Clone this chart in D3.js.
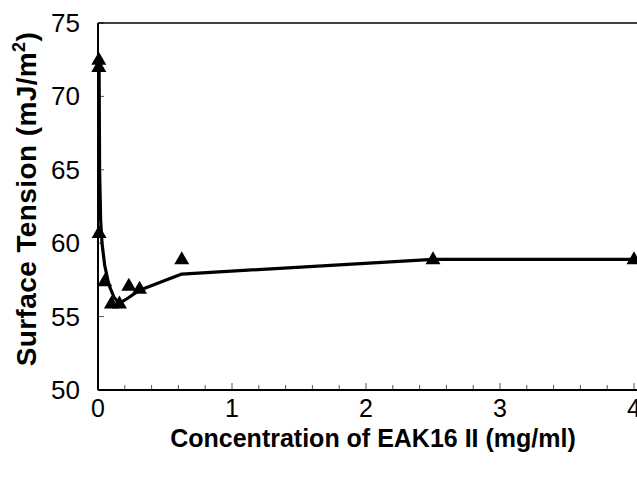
<!DOCTYPE html>
<html>
<head>
<meta charset="utf-8">
<script src="https://cdn.jsdelivr.net/npm/d3@7"></script>
<style>
  body { margin: 0; background: #fff; }
  text { font-family: Arial, "Liberation Sans", sans-serif; }
</style>
</head>
<body>
<svg width="637" height="478"></svg>
<script>
// measured points
var conc = [0.006, 0.006, 0.008, 0.05, 0.1, 0.16, 0.23, 0.31, 0.625, 2.5, 4];
var tension = [72.5, 72.0, 60.7, 57.4, 55.9, 55.9, 57.1, 56.9, 58.9, 58.9, 58.9];

// fitted curve
var fitConc = [0.008, 0.012, 0.02, 0.03, 0.05, 0.08, 0.12, 0.16, 0.23, 0.31, 0.625, 2.5, 4];
var fitTension = [72.3, 65.0, 61.5, 60.0, 58.5, 57.2, 56.3, 55.9, 56.3, 56.8, 57.9, 58.9, 58.9];

var xTickLabels = [0, 1, 2, 3, 4];
var yTickLabels = [50, 55, 60, 65, 70, 75];

var svg = d3.select("svg"),
  margin = { top: 23, right: 3, bottom: 88, left: 98 },
  width = +svg.attr("width") - margin.left - margin.right,
  height = +svg.attr("height") - margin.top - margin.bottom;

var x = d3.scaleLinear().domain([0, 4]).range([0, width]),
  y = d3.scaleLinear().domain([50, 75]).range([height, 0]);

var g = svg.append("g")
  .attr("transform", "translate(" + margin.left + "," + margin.top + ")");

// minor ticks on x every 0.2, pointing up
var xMinor = d3.range(0, 4.001, 0.2);
g.selectAll(".xminor")
  .data(xMinor)
  .enter()
  .append("line")
  .attr("x1", function(d) { return x(d); })
  .attr("x2", function(d) { return x(d); })
  .attr("y1", height)
  .attr("y2", function(d) { return Math.abs(d - Math.round(d)) < 1e-6 ? height - 7 : height - 5; })
  .attr("stroke", "#555")
  .attr("stroke-width", 1);

// y ticks pointing right
g.selectAll(".ytick")
  .data(yTickLabels)
  .enter()
  .append("line")
  .attr("x1", 0)
  .attr("x2", 6)
  .attr("y1", function(d) { return y(d); })
  .attr("y2", function(d) { return y(d); })
  .attr("stroke", "#555")
  .attr("stroke-width", 1);

// frame
g.append("line")
  .attr("x1", 0).attr("x2", 0)
  .attr("y1", 0).attr("y2", height)
  .attr("stroke", "#000").attr("stroke-width", 2);
g.append("line")
  .attr("x1", 0).attr("x2", width + margin.right)
  .attr("y1", height).attr("y2", height)
  .attr("stroke", "#000").attr("stroke-width", 2);
g.append("line")
  .attr("x1", 0).attr("x2", width + margin.right)
  .attr("y1", 0).attr("y2", 0)
  .attr("stroke", "#000").attr("stroke-width", 1.5);

// tick labels
g.selectAll(".xlab")
  .data(xTickLabels)
  .enter()
  .append("text")
  .attr("x", function(d) { return x(d); })
  .attr("y", height + 27)
  .attr("text-anchor", "middle")
  .style("font-size", "25px")
  .text(function(d) { return d; });

g.selectAll(".ylab")
  .data(yTickLabels)
  .enter()
  .append("text")
  .attr("x", -18)
  .attr("y", function(d) { return y(d) + 9; })
  .attr("text-anchor", "end")
  .style("font-size", "26px")
  .text(function(d) { return d; });

// fitted line
var fitData = fitConc.map(function(c, i) { return [c, fitTension[i]]; });
g.append("path")
  .datum(fitData)
  .attr("fill", "none")
  .attr("stroke", "#000")
  .attr("stroke-width", 3.2)
  .attr("stroke-linejoin", "round")
  .attr("d", d3.line()
    .x(function(d) { return x(d[0]); })
    .y(function(d) { return y(d[1]); }));

// triangle markers
g.selectAll(".pt")
  .data(conc)
  .enter()
  .append("path")
  .attr("d", "M0,-8L7.5,5L-7.5,5Z")
  .attr("fill", "#000")
  .attr("transform", function(d, i) {
    return "translate(" + x(d) + "," + y(tension[i]) + ")";
  });

// axis titles
svg.append("text")
  .attr("x", 373)
  .attr("y", 447)
  .attr("text-anchor", "middle")
  .attr("font-weight", "bold")
  .style("font-size", "25px")
  .text("Concentration of EAK16 II (mg/ml)");

var yt = svg.append("text")
  .attr("transform", "translate(36,199) rotate(-90)")
  .attr("text-anchor", "middle")
  .attr("font-weight", "bold")
  .style("font-size", "28px")
  .style("letter-spacing", "0.4px");
yt.append("tspan").text("Surface Tension (mJ/m");
yt.append("tspan").attr("dy", -11).style("font-size", "18px").text("2");
yt.append("tspan").attr("dy", 11).text(")");
</script>
</body>
</html>
